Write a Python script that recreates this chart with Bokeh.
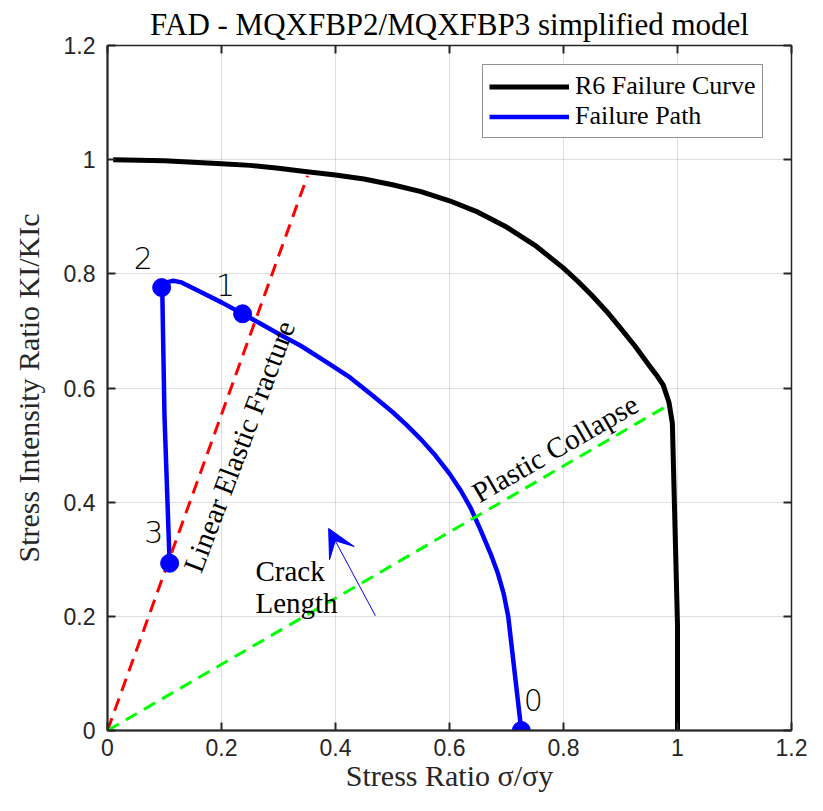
from bokeh.plotting import figure
from bokeh.models import Label, Legend, LegendItem, FixedTicker, Arrow, VeeHead, Range1d, LinearAxis
from bokeh.embed import file_html
from bokeh.resources import INLINE
import math

# ---------------- data ----------------
r6_x = [0.01, 0.1, 0.2, 0.25, 0.3, 0.35, 0.4, 0.45, 0.5, 0.55, 0.6, 0.65, 0.7, 0.75, 0.8,
        0.825, 0.85, 0.875, 0.9, 0.925, 0.95, 0.965, 0.975, 0.985, 0.991, 1.0, 1.0]
r6_y = [1.0, 0.998, 0.993, 0.990, 0.985, 0.979, 0.973, 0.966, 0.956, 0.944, 0.928, 0.908, 0.882, 0.850, 0.81,
        0.787, 0.762, 0.735, 0.705, 0.674, 0.64, 0.620, 0.605, 0.575, 0.538, 0.185, 0.0]

path_x = [0.726, 0.703, 0.695, 0.685, 0.672, 0.655, 0.637, 0.62, 0.60, 0.575, 0.55, 0.525, 0.50,
          0.465, 0.426, 0.385, 0.339, 0.30, 0.268, 0.237, 0.20, 0.16, 0.13, 0.115, 0.104, 0.096,
          0.100, 0.109]
path_y = [0.0, 0.20, 0.24, 0.275, 0.31, 0.35, 0.39, 0.42, 0.45, 0.482, 0.51, 0.535, 0.558,
          0.587, 0.618, 0.645, 0.674, 0.695, 0.713, 0.730, 0.750, 0.770, 0.785, 0.788, 0.785, 0.776,
          0.55, 0.293]

pts_x = [0.726, 0.237, 0.095, 0.109]
pts_y = [0.0, 0.730, 0.776, 0.293]
pts_labels = ["0", "1", "2", "3"]
pts_label_x = [0.747, 0.207, 0.063, 0.081]
pts_label_y = [0.053, 0.780, 0.827, 0.347]

lef_x = [0.0, 0.351]
lef_y = [0.0, 0.972]
pc_x = [0.0, 0.984]
pc_y = [0.0, 0.570]

arrow_start = (0.470, 0.201)
arrow_end = (0.388, 0.354)

ticks = [0, 0.2, 0.4, 0.6, 0.8, 1.0, 1.2]
tick_labels = ["0", "0.2", "0.4", "0.6", "0.8", "1", "1.2"]

title_text = "FAD - MQXFBP2/MQXFBP3 simplified model"
xlabel_text = "Stress Ratio σ/σy"
ylabel_text = "Stress Intensity Ratio KI/KIc"

SERIF = "Liberation Serif"
SANS = "Liberation Sans"
LIGHT = "'DejaVu Sans Light', 'Liberation Sans', sans-serif"
AX = "#262626"

p = figure(width=823, height=811, x_range=Range1d(0, 1.2), y_range=Range1d(0, 1.2),
           output_backend="svg", toolbar_location=None,
           min_border_left=107, min_border_right=32, min_border_top=45, min_border_bottom=81)
p.background_fill_color = "white"
p.border_fill_color = "white"
p.outline_line_color = AX
p.outline_line_width = 1.5

p.title.text = title_text
p.title.text_font = SERIF
p.title.text_font_size = "31px"
p.title.text_font_style = "normal"
p.title.text_color = "black"
p.title.align = "center"
p.title.standoff = 8

overrides = {t: l for t, l in zip(ticks, tick_labels)}
for ax in p.xaxis + p.yaxis:
    ax.ticker = FixedTicker(ticks=ticks)
    ax.major_label_overrides = overrides
    ax.axis_line_color = AX
    ax.axis_line_width = 2
    ax.major_tick_in = 8
    ax.major_tick_out = 0
    ax.major_tick_line_color = AX
    ax.major_tick_line_width = 2
    ax.minor_tick_line_color = None
    ax.major_label_text_font = SANS
    ax.major_label_text_font_size = "23px"
    ax.major_label_text_color = AX
    ax.axis_label_text_font = SERIF
    ax.axis_label_text_font_size = "30px"
    ax.axis_label_text_font_style = "normal"
    ax.axis_label_text_color = AX
p.xaxis.major_label_standoff = 8
p.yaxis.major_label_standoff = 12
p.xaxis.axis_label = xlabel_text
p.yaxis.axis_label = ylabel_text
p.xaxis.axis_label_standoff = 0
p.yaxis.axis_label_standoff = 16

for loc in ["right", "above"]:
    a = LinearAxis(ticker=FixedTicker(ticks=ticks), axis_line_color=None,
                   major_tick_in=8, major_tick_out=0, major_tick_line_color=AX,
                   major_tick_line_width=2, minor_tick_line_color=None,
                   major_label_text_font_size="1px", major_label_text_color=None,
                   major_label_standoff=0)
    p.add_layout(a, loc)

p.grid.ticker = FixedTicker(ticks=ticks)
p.grid.grid_line_color = AX
p.grid.grid_line_alpha = 0.15
p.grid.grid_line_width = 1

r6 = p.line(r6_x, r6_y, line_color="black", line_width=5, line_join="round")
path = p.line(path_x, path_y, line_color="blue", line_width=4.5, line_join="round")
p.line(lef_x, lef_y, line_color="red", line_width=3, line_dash="13 8")
p.line(pc_x, pc_y, line_color="#00ff00", line_width=3, line_dash="13 8")
p.scatter(pts_x, pts_y, size=18, fill_color="blue", line_color="blue")

p.add_layout(Arrow(end=VeeHead(size=28, fill_color="blue", line_color="blue"),
                   x_start=arrow_start[0], y_start=arrow_start[1],
                   x_end=arrow_end[0], y_end=arrow_end[1],
                   line_color="blue", line_width=1))

for t, lx, ly in zip(pts_labels, pts_label_x, pts_label_y):
    p.add_layout(Label(x=lx, y=ly, text=t, text_font=LIGHT, text_font_size="30px",
                       text_align="center", text_baseline="middle", text_color="black"))

def lab(x, y, text, size="29px", style="normal", angle=0.0, align="left", baseline="alphabetic"):
    p.add_layout(Label(x=x, y=y, text=text, text_font=SERIF, text_font_size=size,
                       text_font_style=style, angle=angle, text_align=align,
                       text_baseline=baseline, text_color="black"))

# annotations inside plot
lab(0.148, 0.280, "Linear Elastic Fracture", angle=math.radians(69.2))
lab(0.644, 0.413, "Plastic Collapse", angle=math.radians(30))
lab(0.2596, 0.2786, "Crack")
lab(0.2596, 0.2242, "Length")

legend = Legend(items=[LegendItem(label="R6 Failure Curve", renderers=[r6]),
                       LegendItem(label="Failure Path", renderers=[path])],
                location=(375, 592))
legend.label_text_font = SERIF
legend.label_text_font_size = "26px"
legend.label_text_color = "black"
legend.glyph_width = 80
legend.glyph_height = 27
legend.label_height = 27
legend.label_width = 180
legend.padding = 6
legend.spacing = 0
legend.label_standoff = 6
legend.margin = 0
legend.border_line_color = AX
legend.border_line_width = 1
legend.background_fill_color = "white"
legend.background_fill_alpha = 1
p.add_layout(legend)

open("out.html", "w").write(file_html(p, INLINE))
